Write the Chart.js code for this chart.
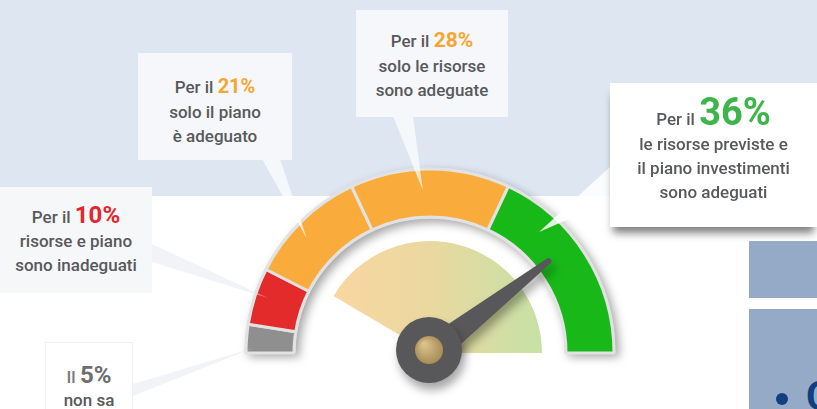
<!DOCTYPE html>
<html>
<head>
<meta charset="utf-8">
<script src="https://cdn.jsdelivr.net/npm/chart.js@4.4.0/dist/chart.umd.min.js"></script>
<style>
  body { margin: 0; }
  #wrap { position: relative; width: 817px; height: 409px; overflow: hidden;
    background: linear-gradient(#dde6f1 0, #dde6f1 196px, #ffffff 196px);
    font-family: Roboto, sans-serif; color: #58595b; }
  #c { position: absolute; left: 0; top: 0; }
  .box { position: absolute; text-align: center; font-size: 17px; font-weight: 500; line-height: 24px; box-sizing: border-box; }
  .box .l1 { height: 28px; line-height: 28px; white-space: nowrap; }
  .box .l1 span { font-size: 17px; }
  .num { font-weight: 700; }
  .blu { position: absolute; background: #95aac6; }
</style>
</head>
<body>
<div id="wrap">
  <canvas id="c" width="817" height="409"></canvas>

  <div class="box" style="left:0;top:187px;width:152px;height:106px;padding-top:14px;background:#f6f7f8;">
    <div class="l1"><span>Per il </span><b class="num" style="font-size:24px;color:#e3262e;">10%</b></div>
    <div>risorse e piano</div>
    <div>sono inadeguati</div>
  </div>

  <div class="box" style="left:138px;top:53px;width:154px;height:107px;padding-top:19px;background:#f5f7fa;">
    <div class="l1"><span>Per il </span><b class="num" style="font-size:20px;color:#f7a531;">21%</b></div>
    <div>solo il piano</div>
    <div>è adeguato</div>
  </div>

  <div class="box" style="left:356px;top:10px;width:152px;height:107px;padding-top:16px;background:#f5f7fa;">
    <div class="l1"><span>Per il </span><b class="num" style="font-size:21px;color:#f7a531;">28%</b></div>
    <div>solo le risorse</div>
    <div>sono adeguate</div>
  </div>

  <div class="box" style="left:610px;top:83px;width:207px;height:144px;padding-top:9px;background:#ffffff;box-shadow:0 9px 8px -3px rgba(0,0,0,0.5);">
    <div class="l1" style="height:40px;line-height:40px;"><span>Per il </span><b class="num" style="font-size:38px;color:#3cb54a;">36%</b></div>
    <div>le risorse previste e</div>
    <div>il piano investimenti</div>
    <div>sono adeguati</div>
  </div>

  <div class="box" style="left:45px;top:342px;width:88px;height:80px;padding-top:18px;background:#ffffff;border:1px solid #f0f0f0;line-height:22px;">
    <div class="l1"><span style="color:#77787a;">Il </span><b class="num" style="font-size:24px;color:#6d6e70;">5%</b></div>
    <div>non sa</div>
  </div>

  <div class="blu" style="left:749px;top:241px;width:68px;height:57px;"></div>
  <div class="blu" style="left:749px;top:309px;width:68px;height:100px;overflow:hidden;">
    <div style="position:absolute;left:27px;top:84px;width:12px;height:12px;border-radius:6px;background:#123f7f;"></div>
    <div style="position:absolute;left:57px;top:68px;font-size:40px;font-weight:700;color:#123f7f;line-height:40px;">C</div>
  </div>
</div>

<script>
// valori del grafico (quota di risposte, in %)
var categorie = ['Non sa', 'Risorse e piano inadeguati', 'Solo il piano adeguato', 'Solo le risorse adeguate', 'Risorse e piano adeguati'];
var percentuali = [5, 10, 21, 28, 36];
var colori = ['#8f8f8f', '#e32b2b', '#f9ac3b', '#f9ac3b', '#19b819'];
// settore chiaro interno: parte vuota e parte colorata
var ventaglio = [17, 83];
// posizione della lancetta sulla scala 0-100
var lancetta = 79;

// code dei fumetti: segmento, posizione nel segmento, base sul riquadro
var code = [
  { seg: 0, t: 0.18, r: 0.85, base: [133, 384, 133, 396], col: 'rgba(225,229,236,0.45)' },
  { seg: 1, t: 0.54, r: 0.73, base: [152, 244, 152, 262], col: 'rgba(225,229,236,0.45)' },
  { seg: 2, t: 0.42, r: 0.67, base: [262, 159, 280, 159], col: 'rgba(255,255,255,0.7)' },
  { seg: 3, t: 0.45, r: 0.56, base: [393, 116, 413, 116], col: 'rgba(255,255,255,0.7)' },
  { seg: 4, t: 0.26, r: 0.56, base: [612, 165, 612, 200], col: 'rgba(255,255,255,0.85)' }
];

var extra = {
  id: 'extra',
  beforeDatasetsDraw: function(chart) {
    // alone grigio e ombra dietro l'arco
    var a = chart.getDatasetMeta(0).data[0];
    var ctx = chart.ctx;
    ctx.save();
    ctx.shadowColor = 'rgba(0,0,0,0.35)';
    ctx.shadowBlur = 10;
    ctx.shadowOffsetX = 4;
    ctx.shadowOffsetY = 4;
    ctx.fillStyle = '#e2e2e2';
    ctx.beginPath();
    ctx.arc(a.x, a.y, a.outerRadius + 1.5, Math.PI, 2 * Math.PI);
    ctx.arc(a.x, a.y, a.innerRadius - 1.5, 2 * Math.PI, Math.PI, true);
    ctx.closePath();
    ctx.fill();
    ctx.restore();
  },
  afterDatasetsDraw: function(chart) {
    var ctx = chart.ctx;
    var archi = chart.getDatasetMeta(0).data;

    // code dei fumetti
    for (var i = 0; i < code.length; i++) {
      var c = code[i];
      var el = archi[c.seg];
      var ang = el.startAngle + c.t * (el.endAngle - el.startAngle);
      var rr = el.innerRadius + c.r * (el.outerRadius - el.innerRadius);
      var px = el.x + rr * Math.cos(ang);
      var py = el.y + rr * Math.sin(ang);
      ctx.fillStyle = c.col;
      ctx.beginPath();
      ctx.moveTo(c.base[0], c.base[1]);
      ctx.lineTo(c.base[2], c.base[3]);
      ctx.lineTo(px, py);
      ctx.closePath();
      ctx.fill();
    }

    // lancetta
    var a = archi[0];
    var inizio = archi[0].startAngle;
    var fine = archi[archi.length - 1].endAngle;
    var th = inizio + lancetta / 100 * (fine - inizio);
    var dx = Math.cos(th), dy = Math.sin(th);
    var nx = -dy, ny = dx;
    var L = 150;
    ctx.save();
    ctx.shadowColor = 'rgba(0,0,0,0.35)';
    ctx.shadowBlur = 10;
    ctx.shadowOffsetX = 3;
    ctx.shadowOffsetY = 7;
    ctx.fillStyle = '#58585a';
    ctx.beginPath();
    ctx.moveTo(a.x + nx * 14, a.y + ny * 14);
    ctx.lineTo(a.x + dx * L + nx * 3, a.y + dy * L + ny * 3);
    ctx.arc(a.x + dx * L, a.y + dy * L, 3, th + Math.PI / 2, th - Math.PI / 2, true);
    ctx.lineTo(a.x - nx * 14, a.y - ny * 14);
    ctx.closePath();
    ctx.fill();
    ctx.beginPath();
    ctx.arc(a.x - 1, a.y - 3, 33, 0, 2 * Math.PI);
    ctx.fill();
    ctx.restore();

    var g = ctx.createRadialGradient(a.x - 6, a.y - 9, 2, a.x - 1, a.y - 3, 15);
    g.addColorStop(0, '#d9c08a');
    g.addColorStop(1, '#a48a55');
    ctx.fillStyle = g;
    ctx.beginPath();
    ctx.arc(a.x - 1, a.y - 3, 14, 0, 2 * Math.PI);
    ctx.fill();
  }
};

var ctx = document.getElementById('c').getContext('2d');
var chart = new Chart(ctx, {
  type: 'doughnut',
  data: {
    labels: categorie,
    datasets: [{
      data: percentuali,
      backgroundColor: colori,
      borderColor: '#e2e2e2',
      borderWidth: 3,
      hoverBorderWidth: 3,
      hoverOffset: 0,
      weight: 48
    }, {
      data: [100],
      backgroundColor: 'rgba(0,0,0,0)',
      borderWidth: 0,
      hoverBorderWidth: 0,
      hoverOffset: 0,
      weight: 24
    }, {
      data: ventaglio,
      backgroundColor: function(context) {
        if (context.dataIndex === 0) return 'rgba(0,0,0,0)';
        var area = context.chart.chartArea;
        if (!area) return '#e6d8a0';
        var cx = (area.left + area.right) / 2;
        var g = context.chart.ctx.createLinearGradient(cx - 112, 0, cx + 112, 0);
        g.addColorStop(0, '#fbd6a0');
        g.addColorStop(0.5, '#ead8a0');
        g.addColorStop(1, '#c6e1a6');
        return g;
      },
      borderWidth: 0,
      hoverBorderWidth: 0,
      hoverOffset: 0,
      weight: 112
    }]
  },
  options: {
    responsive: false,
    animation: false,
    events: [],
    rotation: -90,
    circumference: 180,
    cutout: 0,
    layout: { padding: { left: 244.5, right: 201.5, top: 161, bottom: 48 } },
    plugins: {
      legend: { display: false },
      tooltip: { enabled: false }
    }
  },
  plugins: [extra]
});
</script>
</body>
</html>
